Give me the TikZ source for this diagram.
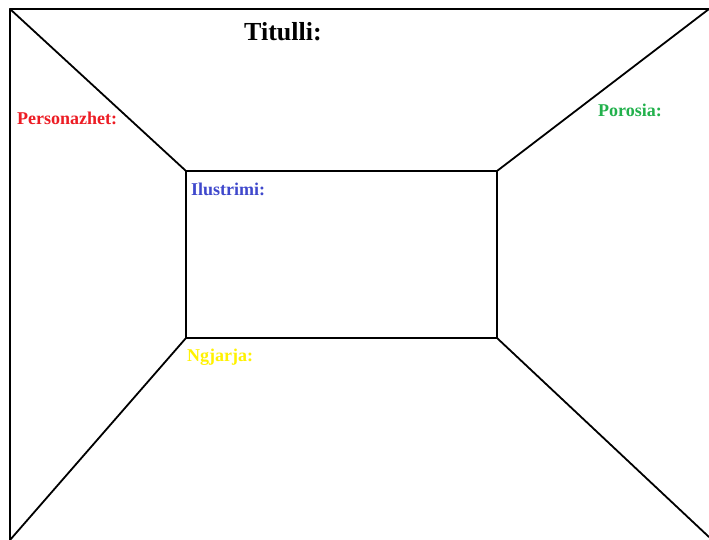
\documentclass[tikz,border=0pt]{standalone}
\usepackage{fontspec}
\setmainfont{Liberation Serif}
\definecolor{pred}{RGB}{237,28,36}
\definecolor{pgreen}{RGB}{34,177,76}
\definecolor{pblue}{RGB}{63,72,204}
\definecolor{pyellow}{RGB}{255,242,0}
\begin{document}
\begin{tikzpicture}[x=1pt,y=-1pt,
  edge/.style={draw=black,line width=1.8pt,line cap=round,line join=round},
  lab/.style={font=\fontsize{18}{20}\selectfont\bfseries,inner sep=0pt,anchor=west}]
\useasboundingbox[fill=white] (0,0) rectangle (709,540);
\coordinate (tl) at (10,9);
\coordinate (tr) at (709,9);
\coordinate (bl) at (10,540);
\coordinate (br) at (709,537);
\coordinate (itl) at (186,171);
\coordinate (itr) at (497,171);
\coordinate (ibl) at (186,338);
\coordinate (ibr) at (497,338);
\draw[edge] (bl) -- (tl) -- (tr);
\draw[edge] (tl) -- (itl);
\draw[edge] (tr) -- (itr);
\draw[edge] (bl) -- (ibl);
\draw[edge] (br) -- (ibr);
\draw[edge] (itl) rectangle (ibr);
\node[font=\fontsize{26}{28}\selectfont\bfseries,inner sep=0pt] (title) at (283,32) {Titulli:};
\node[lab,text=pred] (pers) at (17,118) {Personazhet:};
\node[lab,text=pgreen] (poro) at (598,110) {Porosia:};
\node[lab,text=pblue] (ilus) at (191,189) {Ilustrimi:};
\node[lab,text=pyellow] (ngj) at (187,357) {Ngjarja:};
\end{tikzpicture}
\end{document}
